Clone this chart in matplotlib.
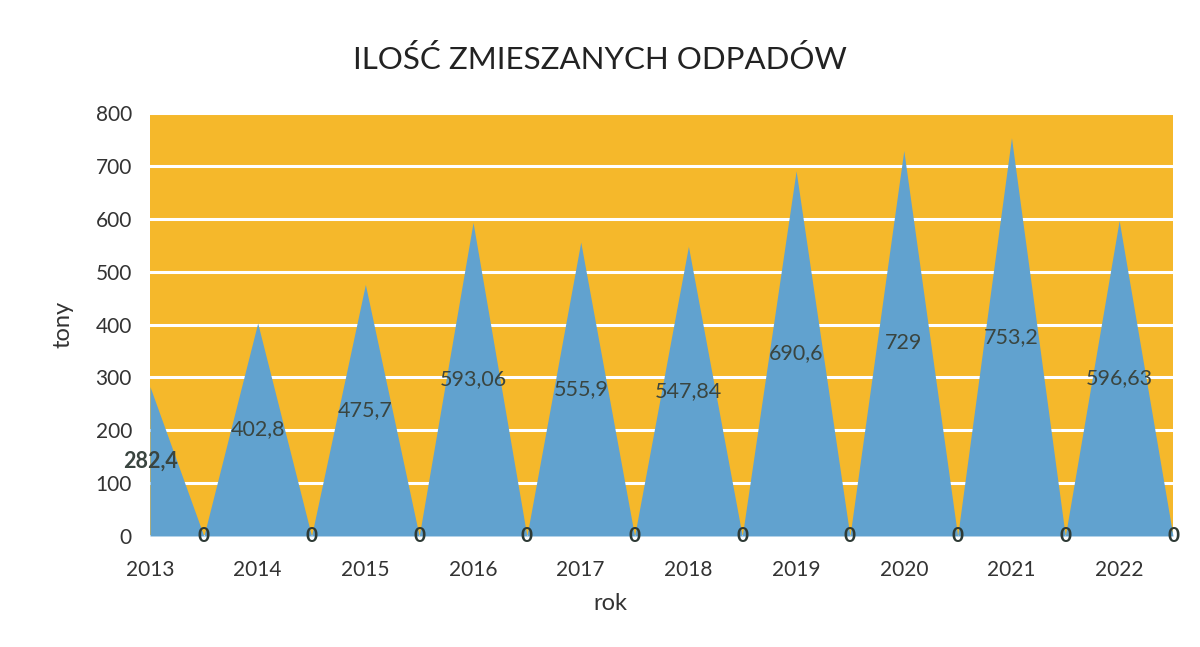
import numpy as np
import matplotlib.pyplot as plt

plt.rcParams['font.family'] = ['Lato', 'DejaVu Sans']

years = ['2013', '2014', '2015', '2016', '2017', '2018', '2019', '2020', '2021', '2022']
values = [282.4, 402.8, 475.7, 593.06, 555.9, 547.84, 690.6, 729, 753.2, 596.63]
value_labels = ['282,4', '402,8', '475,7', '593,06', '555,9', '547,84', '690,6', '729', '753,2', '596,63']

# every year is followed by a zero point, like the original sheet
y = []
for v in values:
    y += [v, 0]
x = np.arange(len(y))

fig = plt.figure(figsize=(12, 6.47), dpi=100)
ax = fig.add_axes([0.125, 0.1716, 0.8525, 0.6537])
ax.set_facecolor('#F5B82B')
ax.fill_between(x, y, 0, color='#61A2CF', zorder=3, linewidth=0)
ax.set_xlim(0, len(y) - 1)
ax.set_ylim(0, 800)
ax.set_yticks(range(0, 801, 100))
ax.yaxis.grid(True, color='white', linewidth=2.2, zorder=1)
ax.set_axisbelow(True)
for s in ax.spines.values():
    s.set_visible(False)
ax.tick_params(length=0, labelsize=15, colors='#333333')
ax.set_xticks(x[::2])
ax.set_xticklabels(years)
ax.tick_params(axis='x', pad=17)
ax.tick_params(axis='y', pad=13)

for i, (v, lab) in enumerate(zip(values, value_labels)):
    ax.text(2 * i, v / 2, lab, ha='center', va='center', fontsize=15.5,
            color='#3a4540', fontweight='bold' if i == 0 else 'normal', zorder=5)
    ax.text(2 * i + 1, 0, '0', ha='center', va='center', fontsize=15,
            color='#2e3a35', fontweight='bold', zorder=5, clip_on=False)

ax.set_xlabel('rok', fontsize=17, color='#333333')
ax.xaxis.set_label_coords(0.45, -0.135)
ax.set_ylabel('tony', fontsize=17, color='#333333', labelpad=16)
fig.suptitle('ILOŚĆ ZMIESZANYCH ODPADÓW', fontsize=22.5, color='#222222', y=0.93)

fig.savefig('out.png', dpi=100)
